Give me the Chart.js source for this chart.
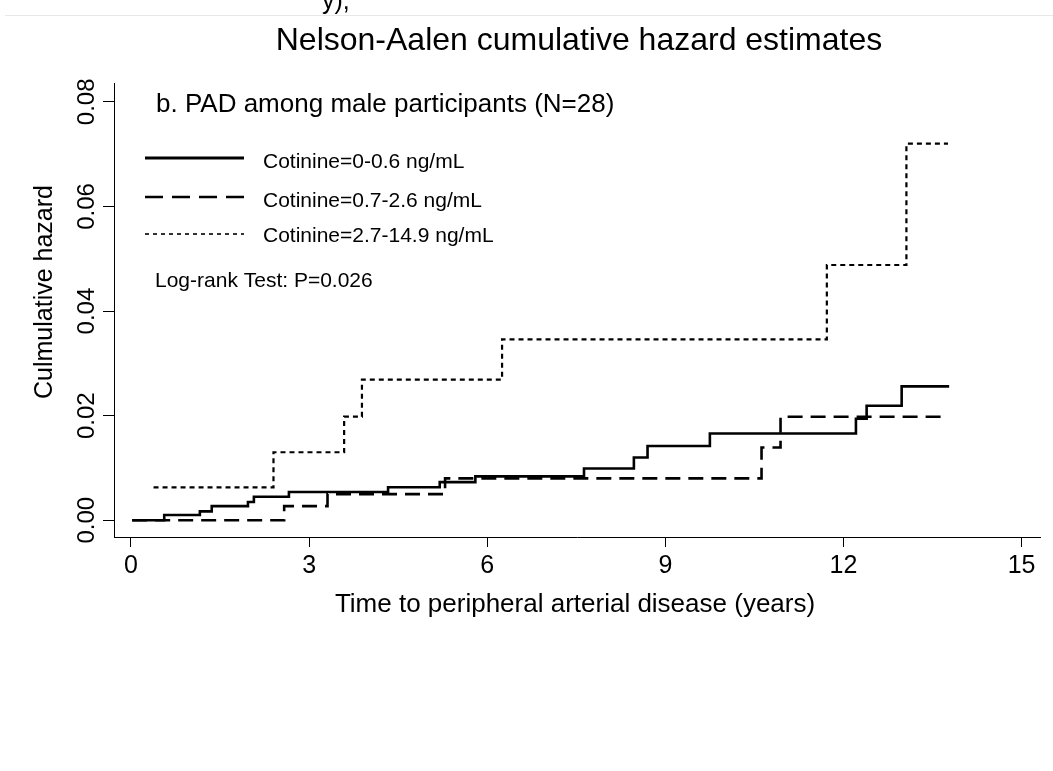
<!DOCTYPE html>
<html>
<head>
<meta charset="utf-8">
<script src="https://cdn.jsdelivr.net/npm/chart.js@4"></script>
<style>
  html, body { margin: 0; padding: 0; background: #fff; }
  #wrap { position: relative; width: 1053px; height: 771px; overflow: hidden; }
  #cut { position: absolute; left: 322px; top: -14px; font: 25px "Liberation Sans", Arial, sans-serif; color: #000; }
  #rule { position: absolute; left: 5px; right: 0; top: 15px; height: 1px; background: #e8e8e8; }
</style>
</head>
<body>
<div id="wrap">
  <div id="cut">y),</div>
  <div id="rule"></div>
  <canvas id="c" width="1053" height="771"></canvas>
</div>
<script>
// Nelson-Aalen cumulative hazard, PAD among men, by cotinine tertile.
const xTicks = [0, 3, 6, 9, 12, 15];
const yTicks = [0, 0.02, 0.04, 0.06, 0.08];

const lowTimes  = [0.02, 0.56, 1.16, 1.36, 1.97, 2.07, 2.66, 4.33, 5.20, 5.80, 7.63, 8.47, 8.70, 9.75, 12.21, 12.39, 12.98, 13.78];
const lowHazard = [0, 0.0010, 0.0017, 0.0027, 0.0035, 0.0045, 0.0054, 0.0063, 0.0073, 0.0084, 0.0099, 0.0120, 0.0142, 0.0166, 0.0194, 0.0219, 0.0256, 0.0256];

const midTimes  = [0.02, 2.58, 3.31, 5.29, 10.62, 10.94, 13.75];
const midHazard = [0, 0.0027, 0.0050, 0.0080, 0.0139, 0.0198, 0.0198];

const highTimes  = [0.38, 2.40, 3.59, 3.89, 6.25, 11.72, 13.06, 13.76];
const highHazard = [0.0063, 0.0130, 0.0198, 0.0269, 0.0346, 0.0488, 0.0720, 0.0720];

const labels = ['Cotinine=0-0.6 ng/mL', 'Cotinine=0.7-2.6 ng/mL', 'Cotinine=2.7-14.9 ng/mL'];

const FONT = '"Liberation Sans", Arial, sans-serif';
const pts = (xs, ys) => xs.map((x, i) => ({ x, y: ys[i] }));

const styles = [
  { width: 2.6, dash: [],      legWidth: 3,   legDash: [] },
  { width: 2.6, dash: [15, 8], legWidth: 2.6, legDash: [18, 9] },
  { width: 2.2, dash: [5, 4],  legWidth: 1.6, legDash: [4, 4] },
];

// text, legend and rotated y labels (Stata look)
const decor = {
  id: 'decor',
  afterDraw(chart) {
    const ctx = chart.ctx;
    const y = chart.scales.y;
    ctx.save();
    ctx.fillStyle = '#000';

    ctx.font = '32px ' + FONT;
    ctx.textAlign = 'center'; ctx.textBaseline = 'middle';
    ctx.fillText('Nelson-Aalen cumulative hazard estimates', 579, 41);

    // y tick labels, rotated
    ctx.font = '24px ' + FONT;
    y.ticks.forEach((t) => {
      const py = y.getPixelForValue(t.value);
      ctx.save();
      ctx.translate(94, py);
      ctx.rotate(-Math.PI / 2);
      ctx.textAlign = 'center'; ctx.textBaseline = 'alphabetic';
      ctx.fillText(t.value.toFixed(2), 0, 0);
      ctx.restore();
    });

    ctx.save();
    ctx.font = '25px ' + FONT;
    ctx.translate(52, 292);
    ctx.rotate(-Math.PI / 2);
    ctx.textAlign = 'center'; ctx.textBaseline = 'alphabetic';
    ctx.fillText('Culmulative hazard', 0, 0);
    ctx.restore();

    ctx.font = '26px ' + FONT;
    ctx.textAlign = 'center'; ctx.textBaseline = 'middle';
    ctx.fillText('Time to peripheral arterial disease (years)', 575, 605);

    // annotation + legend
    ctx.textAlign = 'left'; ctx.textBaseline = 'alphabetic';
    ctx.font = '26px ' + FONT;
    ctx.fillText('b. PAD among male participants (N=28)', 156, 112);

    const rows = [{ ly: 158, ty: 168 }, { ly: 197, ty: 207 }, { ly: 234, ty: 242 }];
    ctx.font = '21px ' + FONT;
    rows.forEach((r, i) => {
      ctx.beginPath();
      ctx.lineWidth = styles[i].legWidth;
      ctx.setLineDash(styles[i].legDash);
      ctx.strokeStyle = '#000';
      ctx.moveTo(145, r.ly); ctx.lineTo(244, r.ly);
      ctx.stroke();
      ctx.fillText(labels[i], 263, r.ty);
    });
    ctx.setLineDash([]);
    ctx.fillText('Log-rank Test: P=0.026', 155, 287);
    ctx.restore();
  },
};

new Chart(document.getElementById('c'), {
  type: 'line',
  data: {
    datasets: [
      { label: labels[0], data: pts(lowTimes, lowHazard) },
      { label: labels[1], data: pts(midTimes, midHazard) },
      { label: labels[2], data: pts(highTimes, highHazard) },
    ].map((d, i) => ({
      ...d,
      borderColor: '#000', borderWidth: styles[i].width, borderDash: styles[i].dash,
      stepped: 'before', pointRadius: 0, fill: false, tension: 0,
      borderCapStyle: 'butt', borderJoinStyle: 'miter',
    })),
  },
  options: {
    responsive: false, animation: false, devicePixelRatio: 1,
    layout: { padding: { left: 0, right: 13, top: 83, bottom: 0 } },
    plugins: { legend: { display: false }, tooltip: { enabled: false } },
    scales: {
      x: {
        type: 'linear', min: -0.286, max: 15.31,
        afterBuildTicks: (s) => { s.ticks = xTicks.map((v) => ({ value: v })); },
        afterFit: (s) => { s.height = 234; },
        ticks: { color: '#000', font: { family: FONT, size: 25 }, padding: 4, maxRotation: 0, autoSkip: false,
                 callback: (v) => String(v) },
        grid: { drawOnChartArea: false, drawTicks: true, tickLength: 10, tickColor: '#000', tickWidth: 1 },
        border: { display: true, color: '#000', width: 1 },
      },
      y: {
        type: 'linear', min: -0.0032, max: 0.0836,
        afterBuildTicks: (s) => { s.ticks = yTicks.map((v) => ({ value: v })); },
        afterFit: (s) => { s.width = 114; },
        ticks: { display: false },
        grid: { drawOnChartArea: false, drawTicks: true, tickLength: 11, tickColor: '#000', tickWidth: 1 },
        border: { display: true, color: '#000', width: 1 },
      },
    },
  },
  plugins: [decor],
});
</script>
</body>
</html>
